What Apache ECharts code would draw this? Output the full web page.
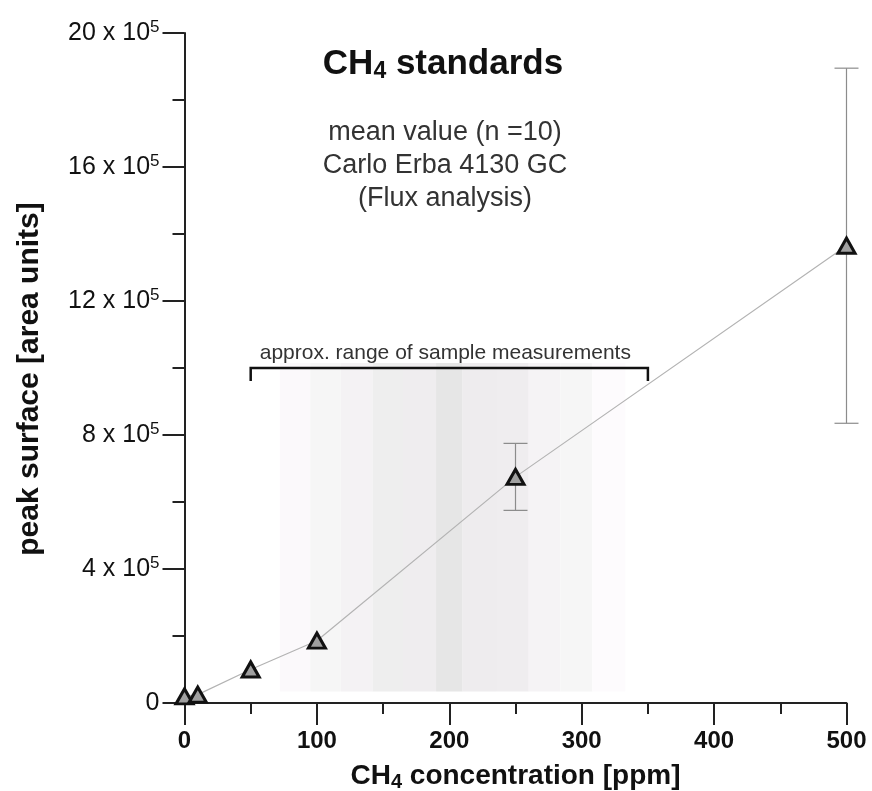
<!DOCTYPE html>
<html>
<head>
<meta charset="utf-8">
<script src="https://cdn.jsdelivr.net/npm/echarts@6/dist/echarts.min.js"></script>
<style>
  html, body { margin: 0; padding: 0; background: #fff; }
  #main { width: 872px; height: 791px; }
</style>
</head>
<body>
<div id="main"></div>
<script>
// CH4 standards (values in 10^5 area units)
var concentration = [0, 10, 50, 100, 250, 500];
var peakMean = [0.2, 0.25, 1.0, 1.86, 6.75, 13.65];
var peakSd = [0, 0, 0, 0, 1.0, 5.3];

// shaded band = approx. distribution of sample measurements
var bandEdges = [72, 95, 118, 142, 165, 190, 210, 236, 260, 284, 308, 333];
var bandBottom = 0.34;
var bandTop = 10.15;
var bandShades = ['#fbf9fb', '#f6f6f6', '#f4f2f4', '#eeeeee', '#efedef', '#e6e6e6',
                  '#eeecee', '#efedef', '#f5f3f5', '#f6f6f6', '#fdfbfd'];

// bracket above the band
var rangeFrom = 50;
var rangeTo = 350;
var rangeLevel = 10.0;

var xTicks = [0, 100, 200, 300, 400, 500];
var yTicks = [0, 4, 8, 12, 16, 20];

var font = '"Liberation Sans", Arial, Helvetica, sans-serif';

var chart = echarts.init(document.getElementById('main'), null, { renderer: 'canvas' });

var points = [];
var bars = [];
for (var i = 0; i < concentration.length; i++) {
  points.push([concentration[i], peakMean[i]]);
  if (peakSd[i] > 0) {
    bars.push([concentration[i], peakMean[i] - peakSd[i], peakMean[i] + peakSd[i]]);
  }
}

var bandAreas = [];
for (var j = 0; j < bandShades.length; j++) {
  bandAreas.push([
    { xAxis: bandEdges[j], yAxis: bandBottom, itemStyle: { color: bandShades[j] } },
    { xAxis: bandEdges[j + 1], yAxis: bandTop }
  ]);
}

var option = {
  animation: false,
  backgroundColor: '#fff',
  title: [
    {
      text: '{b|CH}{s|4}{b| standards}',
      left: 438,
      top: 40,
      textAlign: 'center',
      textStyle: {
        rich: {
          b: { fontFamily: font, fontSize: 35, fontWeight: 'bold', color: '#111', lineHeight: 38 },
          s: { fontFamily: font, fontSize: 23, fontWeight: 'bold', color: '#111', lineHeight: 38, padding: [15, 0, 0, 0] }
        }
      }
    },
    {
      text: 'mean value (n =10)\nCarlo Erba 4130 GC\n(Flux analysis)',
      left: 440,
      top: 111,
      textAlign: 'center',
      textStyle: { fontFamily: font, fontSize: 27, fontWeight: 'normal', color: '#333', lineHeight: 33 }
    }
  ],
  grid: {
    left: 184.5,
    right: 25.5,
    top: 33,
    bottom: 88,
    outerBoundsMode: 'none'
  },
  xAxis: {
    type: 'value',
    min: 0,
    max: 500,
    interval: 100,
    name: '{b|CH}{s|4}{b| concentration [ppm]}',
    nameLocation: 'middle',
    nameGap: 57,
    nameTextStyle: {
      rich: {
        b: { fontFamily: font, fontSize: 28, fontWeight: 'bold', color: '#111', lineHeight: 32 },
        s: { fontFamily: font, fontSize: 20, fontWeight: 'bold', color: '#111', lineHeight: 32, padding: [13, 0, 0, 0] }
      }
    },
    axisLine: { show: true, onZero: false, lineStyle: { color: '#222', width: 2 } },
    axisTick: { show: true, length: 22, lineStyle: { color: '#222', width: 2 } },
    minorTick: { show: true, splitNumber: 2, length: 11, lineStyle: { color: '#222', width: 2 } },
    splitLine: { show: false },
    axisLabel: {
      margin: 26,
      fontFamily: font,
      fontSize: 24,
      fontWeight: 'bold',
      color: '#111',
      formatter: function (v) { return xTicks.indexOf(v) >= 0 ? String(v) : ''; }
    }
  },
  yAxis: {
    type: 'value',
    min: 0,
    max: 20,
    interval: 4,
    name: 'peak surface [area units]',
    nameLocation: 'middle',
    nameGap: 140,
    nameTextStyle: { fontFamily: font, fontSize: 30, fontWeight: 'bold', color: '#111', padding: [0, 22, 0, 0] },
    axisLine: { show: true, onZero: false, lineStyle: { color: '#222', width: 2 } },
    axisTick: { show: true, length: 22, lineStyle: { color: '#222', width: 2 } },
    minorTick: { show: true, splitNumber: 2, length: 12, lineStyle: { color: '#222', width: 2 } },
    splitLine: { show: false },
    axisLabel: {
      margin: 25,
      fontFamily: font,
      color: '#111',
      formatter: function (v) {
        if (yTicks.indexOf(v) < 0) return '';
        if (v === 0) return '{a|0}';
        return '{a|' + v + ' x 10}{sup|5}';
      },
      rich: {
        a: { fontFamily: font, fontSize: 25, color: '#111', lineHeight: 30 },
        sup: { fontFamily: font, fontSize: 17, color: '#111', lineHeight: 30, padding: [0, 0, 12, 0] }
      }
    }
  },
  series: [
    {
      // shaded band, drawn first so it stays behind
      type: 'line',
      data: [],
      silent: true,
      z: 1,
      markArea: {
        silent: true,
        data: bandAreas
      }
    },
    {
      // bracket with its label
      type: 'custom',
      z: 3,
      silent: true,
      data: [[rangeFrom, rangeTo, rangeLevel]],
      renderItem: function (params, api) {
        var a = api.coord([api.value(0), api.value(2)]);
        var b = api.coord([api.value(1), api.value(2)]);
        var mid = api.coord([(api.value(0) + api.value(1)) / 2, api.value(2)]);
        return {
          type: 'group',
          children: [
            {
              type: 'polyline',
              shape: { points: [[a[0], a[1] + 13], a, b, [b[0], b[1] + 13]] },
              style: { stroke: '#111', lineWidth: 2.5, fill: null }
            },
            {
              type: 'text',
              style: {
                text: 'approx. range of sample measurements',
                x: mid[0] - 4,
                y: mid[1] - 4,
                align: 'center',
                verticalAlign: 'bottom',
                fontFamily: font,
                fontSize: 21,
                fill: '#333'
              }
            }
          ]
        };
      }
    },
    {
      // error bars (mean +/- sd)
      type: 'custom',
      z: 4,
      silent: true,
      data: bars,
      renderItem: function (params, api) {
        var lo = api.coord([api.value(0), api.value(1)]);
        var hi = api.coord([api.value(0), api.value(2)]);
        var style = { stroke: '#8c8c8c', lineWidth: 1.2 };
        return {
          type: 'group',
          children: [
            { type: 'line', shape: { x1: lo[0], y1: lo[1], x2: hi[0], y2: hi[1] }, style: style },
            { type: 'line', shape: { x1: lo[0] - 12, y1: lo[1], x2: lo[0] + 12, y2: lo[1] }, style: style },
            { type: 'line', shape: { x1: hi[0] - 12, y1: hi[1], x2: hi[0] + 12, y2: hi[1] }, style: style }
          ]
        };
      }
    },
    {
      type: 'line',
      z: 5,
      data: points,
      symbol: 'triangle',
      symbolSize: [17, 15],
      lineStyle: { color: '#b3b3b3', width: 1.2 },
      itemStyle: { color: '#a0a0a0', borderColor: '#111', borderWidth: 3 }
    }
  ]
};

chart.setOption(option);
</script>
</body>
</html>
